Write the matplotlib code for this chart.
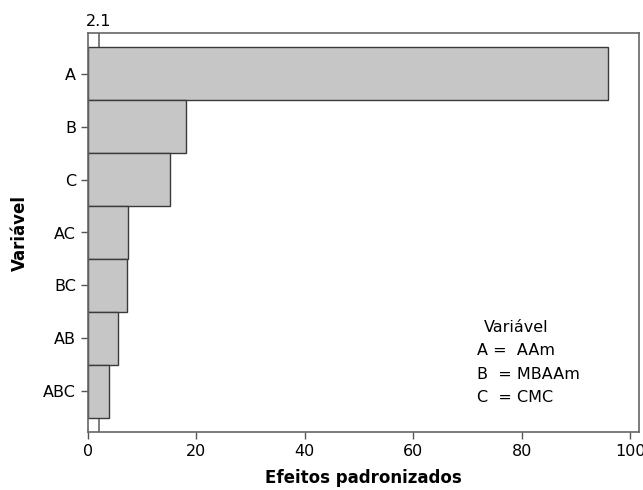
import matplotlib
matplotlib.use("Agg")
import matplotlib.pyplot as plt

categories = ["A", "B", "C", "AC", "BC", "AB", "ABC"]
values = [95.8, 18.1, 15.1, 7.47, 7.17, 5.63, 3.86]
ref_value = 2.1
xticks = [0, 20, 40, 60, 80, 100]
legend_lines = ["A =  AAm", "B  = MBAAm", "C  = CMC"]

plt.rcParams['font.family'] = ['DejaVu Sans']
fig = plt.figure(figsize=(6.43, 4.9), dpi=100)
ax = fig.add_axes([87.7/643, 1 - 432/490, (639 - 87.7)/643, (432 - 33)/490])

n = len(categories)
pos = list(range(n))
ax.barh(pos, values, height=1.0, color="#c6c6c6", edgecolor="#3a3a3a", linewidth=1.0, zorder=2)
ax.axvline(ref_value, color="#666666", linewidth=1.2, zorder=1)

ax.set_ylim(n - 0.5 + 0.27, -0.5 - 0.27)
ax.set_xlim(0, 101.6)
ax.set_yticks(pos)
ax.set_yticklabels(categories, fontsize=11.5)
ax.set_xticks(xticks)
ax.set_xticklabels([str(t) for t in xticks], fontsize=11.5)
ax.tick_params(axis='both', direction='out', length=5, color="#555555", width=1)
for s in ax.spines.values():
    s.set_color("#666666")
    s.set_linewidth(1.2)

ax.set_xlabel("Efeitos padronizados", fontsize=12, fontweight='bold', labelpad=7)
ax.set_ylabel("Variável", fontsize=12, fontweight='bold', labelpad=10)

ax.text(ref_value, 1.01, f"{ref_value}", transform=ax.get_xaxis_transform(),
        ha='center', va='bottom', fontsize=11.5)

fig.text(484/643, 1 - 327/490, "Variável", fontsize=11.5, va='center', ha='left')
ys = [350, 374, 397]
for t, y in zip(legend_lines, ys):
    fig.text(477/643, 1 - y/490, t, fontsize=11.5, va='center', ha='left')

fig.savefig("out.png", dpi=100)
